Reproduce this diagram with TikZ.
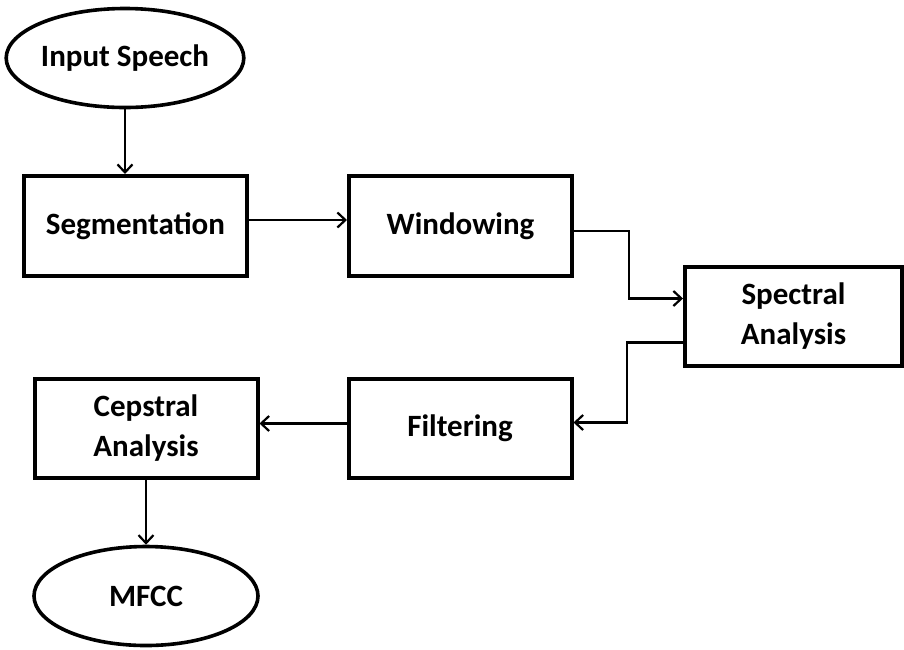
\documentclass[tikz,border=0pt]{standalone}
\usepackage{fontspec}
\setmainfont{Carlito}
\usetikzlibrary{arrows.meta,shapes.geometric}
\begin{document}
\begin{tikzpicture}[x=1pt,y=-1pt,
  lbl/.style={font=\bfseries\fontsize{31}{40}\selectfont, align=center, inner sep=0pt},
  box/.style={lbl, draw, line width=4pt, minimum width=223pt, minimum height=100pt},
  term/.style={lbl, draw, ellipse, line width=3.6pt, minimum width=224pt, minimum height=99pt},
  conn/.style={line width=2.2pt, -{Straight Barb[length=8pt,width=15pt,line width=2.2pt]}}]
\useasboundingbox (0,0) rectangle (904,649);
\node[term] (inp) at (125,58) {Input Speech};
\node[box] (seg) at (135.5,226) {Segmentation};
\node[box] (win) at (460.5,226) {Windowing};
\node[box, minimum width=217pt, minimum height=99pt] (spec) at (793.5,316.5) {Spectral\\Analysis};
\node[box, minimum height=99pt] (filt) at (460,428.5) {Filtering};
\node[box, minimum height=99pt] (ceps) at (146,428.5) {Cepstral\\Analysis};
\node[term] (mfcc) at (146,596) {MFCC};
\draw[conn] (inp.south) -- (inp.south |- seg.north);
\draw[conn] ([yshift=6pt]seg.east) -- ([yshift=6pt]win.west);
\draw[conn] ([yshift=-5pt]win.east) -- ++(55,0) |- ([yshift=18pt]spec.west);
\draw[conn] ([yshift=-26pt]spec.west) -- ++(-56,0) |- ([yshift=6pt]filt.east);
\draw[conn] ([yshift=5pt]filt.west) -- ([yshift=5pt]ceps.east);
\draw[conn] (ceps.south) -- (mfcc.north);
\end{tikzpicture}
\end{document}
